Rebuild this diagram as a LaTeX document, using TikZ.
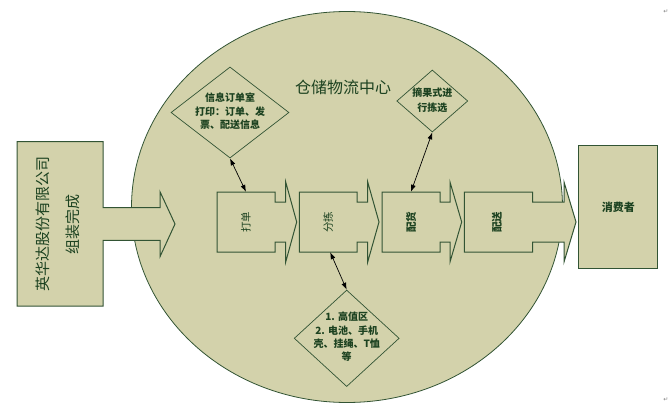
\documentclass[tikz,border=0pt]{standalone}
\usepackage{fontspec}
\newfontfamily\cjk{Noto Sans CJK SC}
\newfontfamily\dejavu{DejaVu Sans}
\usetikzlibrary{shapes.geometric,arrows.meta}
\definecolor{panelfill}{RGB}{211,210,171}
\definecolor{panelline}{RGB}{50,84,52}
\definecolor{txtgreen}{RGB}{28,66,32}
\tikzset{
  shapeline/.style={draw=panelline,fill=panelfill,line width=1pt,line join=miter},
  dia/.style={diamond,draw=panelline,fill=panelfill,line width=0.7pt,inner sep=0pt,shape aspect=1},
  ditext/.style={font=\cjk\bfseries\fontsize{10}{13.6}\selectfont,text=txtgreen,align=center,inner sep=0pt},
  procanchor/.style={draw=none,minimum width=58pt,minimum height=60pt,inner sep=0pt},
  proclabel/.style={rotate=90,text=txtgreen,inner sep=0pt},
  link/.style={black,line width=0.7pt,{Latex[length=7pt,width=5pt]}-{Latex[length=7pt,width=5pt]}},
}
\newcommand\procshape[4]{%
  \draw[shapeline] (#1,192) -- (#2,192) -- (#2,202) -- (#3,202) -- (#3,182) -- (#4,222)
    -- (#3,262) -- (#3,242) -- (#2,242) -- (#2,252) -- (#1,252) -- cycle;}
\begin{document}
\begin{tikzpicture}[x=1pt,y=-1pt]
\useasboundingbox (0,0) rectangle (670,407);
% hub ellipse
\node[ellipse,draw=panelline,fill=panelfill,line width=0.8pt,minimum width=431pt,minimum height=391pt,inner sep=0pt] (hub) at (347,207) {};
\node[font=\cjk\fontsize{16}{16}\selectfont,text=txtgreen] (title) at (343,87) {仓储物流中心};
% supplier box with arrow
\draw[shapeline] (17,141.7) -- (103,141.7) -- (103,207.7) -- (160,207.7) -- (160,191.7) -- (175,224)
  -- (160,256.7) -- (160,240.3) -- (103,240.3) -- (103,306) -- (17,306) -- cycle;
\node[rotate=90,font=\cjk\fontsize{15}{30}\selectfont,text=txtgreen,align=center,inner sep=0pt] (maker) at (58,224) {英华达股份有限公司\\组装完成};
% process arrows
\procshape{217}{275}{285.7}{296.7}
\procshape{299.3}{357}{367.7}{379}
\procshape{382}{440}{450}{461.7}
\procshape{464.3}{532.7}{564}{576}
\node[procanchor] (pick) at (246,222) {};
\node[procanchor] (sort) at (328.2,222) {};
\node[procanchor] (pack) at (411,222) {};
\node[procanchor,minimum width=68.4pt] (ship) at (498.5,222) {};
\node[proclabel,font=\cjk\fontsize{10.5}{10.5}\selectfont] (pickt) at (pick) {打单};
\node[proclabel,font=\cjk\fontsize{10.5}{10.5}\selectfont] (sortt) at (sort) {分拣};
\node[proclabel,font=\cjk\bfseries\fontsize{10.5}{10.5}\selectfont] (packt) at (pack) {配货};
\node[proclabel,font=\cjk\bfseries\fontsize{10.5}{10.5}\selectfont] (shipt) at (497,222) {配送};
% consumer
\node[draw=panelline,fill=panelfill,line width=1pt,minimum width=78.7pt,minimum height=123.3pt,inner sep=0pt] (consumer) at (618.3,207.3) {};
\node[font=\cjk\bfseries\fontsize{11}{11}\selectfont,text=txtgreen,inner sep=0pt] (consumert) at (consumer) {消费者};
% diamonds
\node[dia,minimum width=118pt,minimum height=91pt] (dprint) at (230,112.5) {};
\node[ditext] (dprintt) at (230,111.5) {信息订单室\\打印：订单、发\\票、配送信息};
\node[dia,minimum width=71pt,minimum height=62pt] (dpickup) at (432.3,101) {};
\node[ditext,font=\cjk\bfseries\fontsize{10}{14.7}\selectfont] (dpickupt) at (432.3,100.4) {摘果式进\\行拣选};
\node[dia,minimum width=105pt,minimum height=96.5pt] (dzone) at (346.7,338.3) {};
\node[ditext,font=\cjk\bfseries\fontsize{10}{13.4}\selectfont] (dzonet) at (346.7,337) {1. 高值区\\2. 电池、手机\\壳、挂绳、T恤\\等};
% links
\draw[link] (dprint.south) -- (pick.north);
\draw[link] (dpickup.south) -- (pack.north);
\draw[link] (dzone.north) -- ([xshift=2pt]sort.south);
% paragraph marks
\node[font=\dejavu\fontsize{6}{6}\selectfont,text=gray,inner sep=0pt] (pm1) at (666,12) {↵};
\node[font=\dejavu\fontsize{6}{6}\selectfont,text=gray,inner sep=0pt] (pm2) at (666,400) {↵};
\end{tikzpicture}
\end{document}
